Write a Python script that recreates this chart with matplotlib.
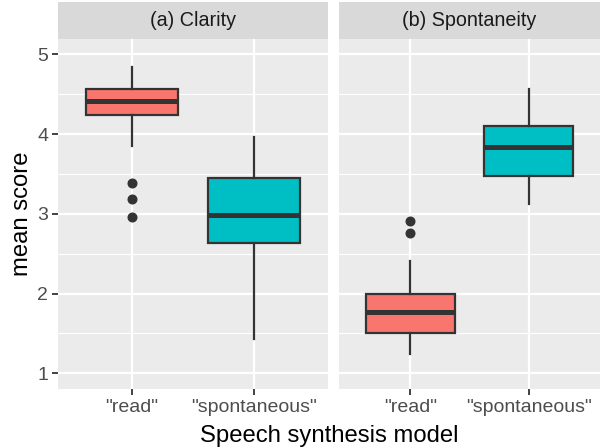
import matplotlib
matplotlib.use("Agg")
import matplotlib.pyplot as plt

plt.rcParams['font.family'] = ['Liberation Sans', 'DejaVu Sans']

panels = ['(a) Clarity', '(b) Spontaneity']
models = ['"read"', '"spontaneous"']
colors = ['#F8766D', '#00BFC4']

# per panel, per model: whislo, q1, med, q3, whishi, outliers
whislo = [[3.85, 1.43], [1.24, 3.12]]
q1 = [[4.24, 2.64], [1.51, 3.47]]
med = [[4.42, 2.98], [1.77, 3.84]]
q3 = [[4.57, 3.45], [2.00, 4.10]]
whishi = [[4.84, 3.96], [2.41, 4.57]]
fliers = [[[3.39, 3.19, 2.96], []], [[2.91, 2.76], []]]

fig = plt.figure(figsize=(6.01, 4.48), dpi=100)

left = [58 / 601, 339 / 601]
widths = [270 / 601, 261 / 601]
bottom = (448 - 389) / 448
height = (389 - 38.7) / 448
strip_h = 36.7 / 448

for p in range(2):
    ax = fig.add_axes([left[p], bottom, widths[p], height])
    ax.set_facecolor('#EBEBEB')
    for s in ax.spines.values():
        s.set_visible(False)

    stats = []
    for m in range(2):
        stats.append(dict(whislo=whislo[p][m], q1=q1[p][m], med=med[p][m],
                          q3=q3[p][m], whishi=whishi[p][m],
                          fliers=fliers[p][m]))
    bp = ax.bxp(stats, positions=[1, 2], widths=0.75, patch_artist=True,
                showcaps=False, zorder=3,
                boxprops=dict(edgecolor='#333333', linewidth=1.6),
                whiskerprops=dict(color='#333333', linewidth=1.6),
                medianprops=dict(color='#333333', linewidth=3.6, solid_capstyle='butt'),
                flierprops=dict(marker='o', markersize=6.2, markerfacecolor='#333333',
                                markeredgecolor='#333333'))
    for patch, c in zip(bp['boxes'], colors):
        patch.set_facecolor(c)

    ax.set_xlim(0.4, 2.6)
    ax.set_ylim(0.803, 5.196)
    ax.set_yticks([1, 2, 3, 4, 5])
    ax.set_yticks([1.5, 2.5, 3.5, 4.5], minor=True)
    ax.set_xticks([1, 2])
    ax.set_xticklabels(models)
    ax.grid(which='major', color='white', linewidth=1.6, zorder=0)
    ax.grid(which='minor', axis='y', color='white', linewidth=0.8, zorder=0)
    ax.set_axisbelow(True)
    ax.tick_params(axis='both', which='major', length=4, width=1.3, color='#333333',
                   labelcolor='#4D4D4D', labelsize=14, pad=3)
    ax.tick_params(which='minor', length=0)
    if p == 0:
        ax.set_ylabel('mean score', fontsize=17.2, labelpad=3)
    else:
        ax.tick_params(axis='y', left=False, labelleft=False)

    sax = fig.add_axes([left[p], bottom + height, widths[p], strip_h])
    sax.set_facecolor('#D9D9D9')
    sax.set_xticks([])
    sax.set_yticks([])
    for s in sax.spines.values():
        s.set_visible(False)
    sax.text(0.5, 0.5, panels[p], ha='center', va='center', fontsize=14.2,
             color='#1A1A1A', transform=sax.transAxes)

fig.text((58 + 600) / 2 / 601, 0.003, 'Speech synthesis model', ha='center',
         va='bottom', fontsize=17.2)

fig.savefig('out.png', dpi=100)
